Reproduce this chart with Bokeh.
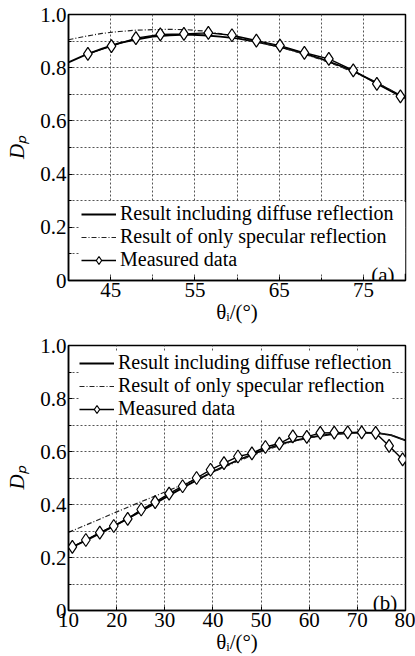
from bokeh.plotting import figure
from bokeh.layouts import column
from bokeh.models import Range1d, FixedTicker, Label, BoxAnnotation
from bokeh.embed import file_html
from bokeh.resources import INLINE

# ---------------- data: panel (a) ----------------
a_theta_model = [40, 42, 44, 46, 48, 50, 52, 54, 56, 58, 60, 62, 64, 66, 68, 70, 72, 74, 76, 78, 80]
a_diffuse = [0.820, 0.848, 0.872, 0.892, 0.906, 0.917, 0.922, 0.924, 0.922, 0.917, 0.910,
             0.899, 0.886, 0.871, 0.853, 0.833, 0.810, 0.784, 0.753, 0.719, 0.685]
a_specular = [0.905, 0.918, 0.929, 0.936, 0.941, 0.943, 0.944, 0.943, 0.938, 0.928, 0.915,
              0.900, 0.885, 0.869, 0.851, 0.830, 0.807, 0.781, 0.752, 0.720, 0.686]
a_meas_theta = [42.3, 45.1, 48.0, 50.9, 53.7, 56.6, 59.4, 62.3, 65.1, 68.0, 70.9, 73.8, 76.6, 79.4]
a_meas = [0.852, 0.881, 0.911, 0.925, 0.927, 0.931, 0.922, 0.902, 0.883, 0.856, 0.833, 0.790, 0.739, 0.692]

# ---------------- data: panel (b) ----------------
b_theta_model = [10, 15, 20, 25, 30, 35, 40, 45, 50, 55, 60, 65, 70, 74, 77, 80]
b_diffuse = [0.232, 0.277, 0.324, 0.374, 0.425, 0.476, 0.524, 0.566, 0.602, 0.633, 0.653,
             0.666, 0.671, 0.670, 0.662, 0.642]
b_specular = [0.295, 0.333, 0.372, 0.410, 0.447, 0.484, 0.522, 0.562, 0.598, 0.630, 0.652,
              0.665, 0.671, 0.670, 0.662, 0.642]
b_meas_theta = [10.8, 13.6, 16.5, 19.4, 22.3, 25.1, 28.0, 30.9, 33.7, 36.6, 39.5, 42.3, 45.2,
                48.1, 50.9, 53.8, 56.6, 59.5, 62.3, 65.2, 68.0, 70.9, 73.8, 76.6, 79.4]
b_meas = [0.240, 0.266, 0.294, 0.319, 0.346, 0.381, 0.409, 0.441, 0.469, 0.500, 0.531, 0.556,
          0.581, 0.593, 0.617, 0.630, 0.657, 0.655, 0.670, 0.671, 0.672, 0.672, 0.670, 0.621, 0.570]

# tick definitions
a_xticks = [45, 55, 65, 75]
a_xminor = [50, 60, 70]
a_xgrid = [45, 50, 55, 60, 65, 70, 75]
b_xticks = [10, 20, 30, 40, 50, 60, 70, 80]
b_xgrid = [20, 30, 40, 50, 60, 70]
y_ticks = [0, 0.2, 0.4, 0.6, 0.8, 1.0]
y_minor = [0.1, 0.3, 0.5, 0.7, 0.9]
y_grid = [0.1, 0.2, 0.3, 0.4, 0.5, 0.6, 0.7, 0.8, 0.9]

labels = ["Result including diffuse reflection", "Result of only specular reflection", "Measured data"]

FONT = "Liberation Serif"


def make_panel(xr, xticks, xminor, xgrid, th_m, dif, spec, th_d, meas,
               height, border_top, border_left, border_right, legend_loc, tag, tag_x, tag_y,
               legend_box=None):
    p = figure(width=415, height=height, x_range=Range1d(*xr), y_range=Range1d(0, 1),
               output_backend="svg", toolbar_location=None,
               min_border_left=border_left, min_border_right=border_right,
               min_border_top=border_top, min_border_bottom=10)
    p.background_fill_color = "white"
    p.outline_line_color = "black"
    p.outline_line_width = 1.5

    p.xaxis.ticker = FixedTicker(ticks=xticks, minor_ticks=xminor)
    p.yaxis.ticker = FixedTicker(ticks=y_ticks, minor_ticks=y_minor)
    p.yaxis.major_label_overrides = {0: "0", 1: "1.0"}
    p.xgrid.ticker = FixedTicker(ticks=xgrid)
    p.ygrid.ticker = FixedTicker(ticks=y_grid)
    for g in (p.xgrid, p.ygrid):
        g.grid_line_color = "#555555"
        g.grid_line_dash = "2 2"
        g.grid_line_width = 1

    for ax in (p.xaxis, p.yaxis):
        ax.axis_line_color = "black"
        ax.axis_line_width = 1.5
        ax.major_tick_in = 4
        ax.major_tick_out = 0
        ax.minor_tick_in = 3
        ax.minor_tick_out = 0
        ax.major_tick_line_color = "black"
        ax.minor_tick_line_color = "black"
        ax.major_label_text_font = FONT
        ax.major_label_text_font_size = "21px"
        ax.major_label_text_color = "black"
        ax.axis_label_text_font = FONT
        ax.axis_label_text_font_size = "21px"
        ax.axis_label_text_color = "black"
        ax.major_label_standoff = 2
    p.xaxis.axis_label = "θᵢ/(°)"
    p.xaxis.axis_label_text_font_style = "normal"
    p.xaxis.axis_label_standoff = 0
    p.yaxis.axis_label = "Dₚ"
    p.yaxis.axis_label_text_font_style = "italic"
    p.yaxis.axis_label_standoff = 8

    if legend_box is not None:
        # white area behind the legend that hides the grid (drawn under the data)
        p.add_layout(BoxAnnotation(left=legend_box[0], right=legend_box[1],
                                   bottom=legend_box[2], top=legend_box[3],
                                   fill_color="white", fill_alpha=1, line_color=None,
                                   level="underlay"))

    p.line(th_m, dif, line_color="black", line_width=1.8, legend_label=labels[0])
    p.line(th_m, spec, line_color="#222222", line_width=1.2, line_dash="5 2 1 2",
           legend_label=labels[1])
    p.line(th_d, meas, line_color="black", line_width=1.4, legend_label=labels[2])
    p.scatter(th_d, meas, marker="diamond", size=13, fill_color="white",
              line_color="black", line_width=1.2, legend_label=labels[2])

    lg = p.legend[0]
    lg.location = legend_loc
    lg.margin = 0
    lg.padding = 4
    lg.spacing = 0
    lg.border_line_color = None
    lg.background_fill_color = "white"
    lg.background_fill_alpha = 0 if legend_box is not None else 1
    lg.glyph_width = 35
    lg.glyph_height = 20
    lg.label_height = 20
    lg.label_standoff = 4
    lg.label_text_font = FONT
    lg.label_text_font_size = "20px"
    lg.label_text_line_height = 1.0
    lg.label_text_color = "black"

    p.add_layout(Label(x=tag_x, y=tag_y, text=tag, text_align="right",
                       text_baseline="alphabetic", text_font=FONT,
                       text_font_size="21px", text_color="black", level="overlay"))
    return p


pa = make_panel((40, 80), a_xticks, a_xminor, a_xgrid, a_theta_model, a_diffuse, a_specular,
                a_meas_theta, a_meas, 326, 14, 68, 6, (13, 9), "(a)", 78.7, 0.02,
                legend_box=(41.3, 80, 0.025, 0.295))
pb = make_panel((10, 80), b_xticks, [], b_xgrid, b_theta_model, b_diffuse, b_specular,
                b_meas_theta, b_meas, 330, 19, 65, 10, (11, 190), "(b)", 78.3, 0.03)

layout = column(pa, pb, spacing=0)
open("out.html", "w").write(file_html(layout, INLINE))
